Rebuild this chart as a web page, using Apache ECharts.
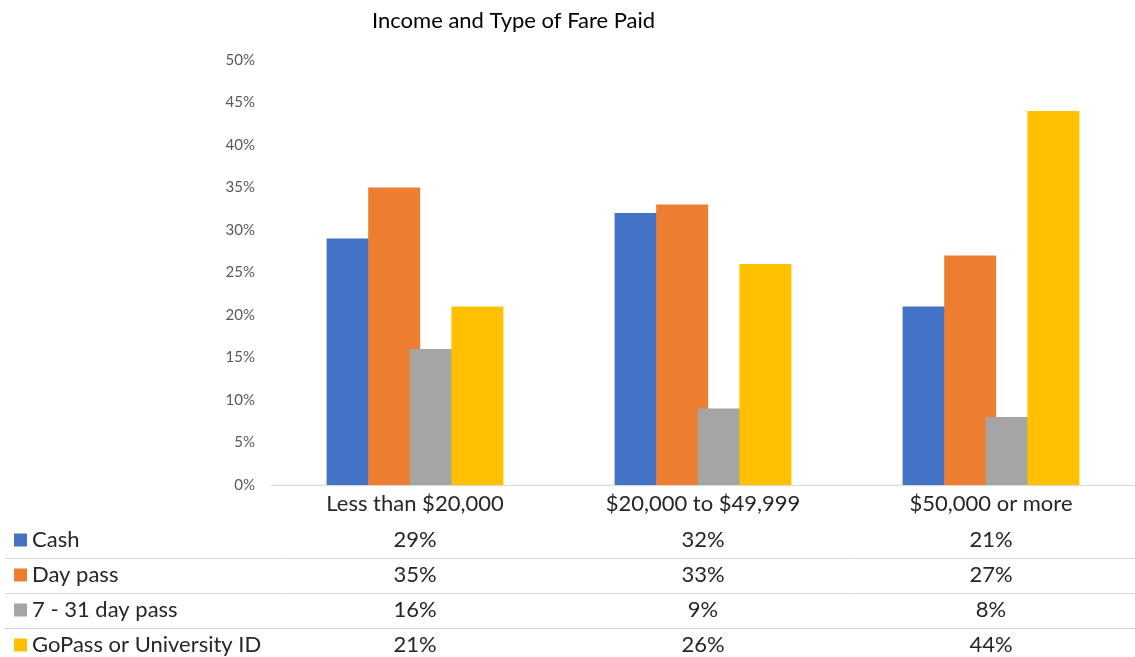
<!DOCTYPE html>
<html>
<head>
<meta charset="utf-8">
<script src="https://cdn.jsdelivr.net/npm/echarts@6/dist/echarts.min.js"></script>
<style>
  html, body { margin: 0; padding: 0; background: #fff; }
  #chart { width: 1135px; height: 657px; }
</style>
</head>
<body>
<div id="chart"></div>
<script>
// income groups (x categories)
var categories = ['Less than $20,000', '$20,000 to $49,999', '$50,000 or more'];
// fare types, one per series
var seriesNames = ['Cash', 'Day pass', '7 - 31 day pass', 'GoPass or University ID'];
var cash = [29, 32, 21];
var dayPass = [35, 33, 27];
var multiDayPass = [16, 9, 8];
var goPass = [21, 26, 44];
var yTicks = [0, 5, 10, 15, 20, 25, 30, 35, 40, 45, 50];

var values = [cash, dayPass, multiDayPass, goPass];
var colors = ['#4472C4', '#ED7D31', '#A5A5A5', '#FFC000'];
var font = 'Lato, "Open Sans", sans-serif';

var myChart = echarts.init(document.getElementById('chart'));

// 数据表格的每一行用一条不画线的分类轴来写数值
var rowAxes = values.map(function (vals, i) {
  return {
    type: 'category',
    gridIndex: 0,
    position: 'bottom',
    offset: 44 + i * 35,
    data: categories,
    axisLine: { show: false, onZero: false },
    axisTick: { show: false },
    axisLabel: {
      margin: 0,
      fontSize: 22,
      lineHeight: 22,
      fontFamily: font,
      color: '#262626',
      formatter: function (v, idx) { return vals[idx] + '%'; }
    }
  };
});

// 表格行之间的分隔线
var sepAxes = [73.7, 108, 143].map(function (off) {
  return {
    type: 'category',
    gridIndex: 1,
    position: 'bottom',
    offset: off,
    data: categories,
    axisLine: { show: true, onZero: false, lineStyle: { color: '#d6d6d6', width: 1 } },
    axisTick: { show: false },
    axisLabel: { show: false }
  };
});

myChart.setOption({
  animation: false,
  title: {
    text: 'Income and Type of Fare Paid',
    left: 367,
    top: 5,
    textStyle: { fontFamily: font, fontSize: 22, fontWeight: 'normal', color: '#000' }
  },
  legend: {
    orient: 'vertical',
    left: 14,
    top: 529,
    height: 140,
    padding: 0,
    itemWidth: 13,
    itemHeight: 13,
    itemGap: 13,
    icon: 'rect',
    selectedMode: false,
    data: seriesNames,
    textStyle: { fontFamily: font, fontSize: 22, lineHeight: 22, color: '#262626' }
  },
  grid: [
    { left: 271, right: -8, top: 60, bottom: 172 },
    { left: 5, right: -8, top: 60, bottom: 172 }
  ],
  xAxis: [{
    type: 'category',
    gridIndex: 0,
    data: categories,
    axisLine: { lineStyle: { color: '#d9d9d9', width: 1 } },
    axisTick: { show: false },
    axisLabel: {
      margin: 8,
      fontSize: 22,
      lineHeight: 22,
      fontFamily: font,
      color: '#262626'
    }
  }].concat(rowAxes, sepAxes),
  yAxis: [{
    type: 'value',
    gridIndex: 0,
    min: yTicks[0],
    max: yTicks[yTicks.length - 1],
    interval: yTicks[1] - yTicks[0],
    axisLine: { show: false },
    axisTick: { show: false },
    splitLine: { show: false },
    axisLabel: {
      margin: 16,
      fontSize: 15,
      fontFamily: font,
      color: '#595959',
      formatter: '{value}%'
    }
  }, {
    type: 'value',
    gridIndex: 1,
    show: false
  }],
  series: values.map(function (vals, i) {
    return {
      name: seriesNames[i],
      type: 'bar',
      xAxisIndex: 0,
      yAxisIndex: 0,
      data: vals,
      barWidth: 52,
      barGap: '-20%',
      itemStyle: { color: colors[i] }
    };
  })
});
</script>
</body>
</html>
